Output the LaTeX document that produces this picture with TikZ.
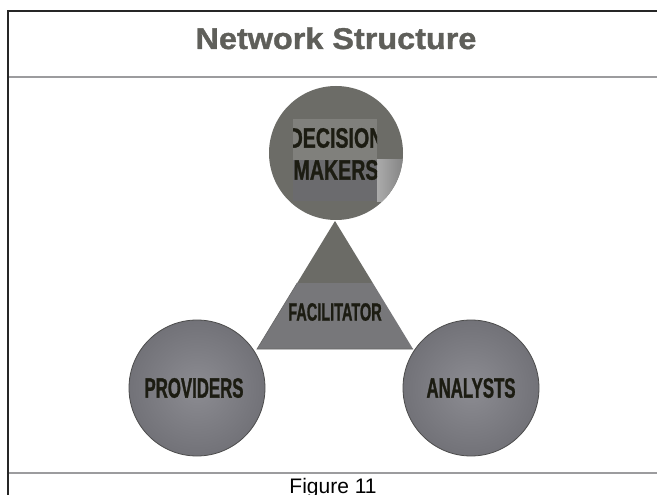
\documentclass[tikz,border=0pt]{standalone}
\usepackage{fontspec}
\setmainfont{Liberation Sans}
\newfontfamily\condA[FakeStretch=0.7,FakeBold=1]{Liberation Sans}
\newfontfamily\condB[FakeStretch=0.6,FakeBold=1]{Liberation Sans}
\newfontfamily\condC[FakeStretch=0.58,FakeBold=1]{Liberation Sans}
\newfontfamily\titlefont[FakeStretch=1.08,FakeBold=1.2]{Liberation Sans}
\definecolor{titlegray}{HTML}{5F5F5A}
\definecolor{dmgray}{HTML}{6C6C67}
\definecolor{boxup}{HTML}{80807C}
\definecolor{boxlow}{HTML}{6B6B6E}
\definecolor{triup}{HTML}{6B6B66}
\definecolor{trilow}{HTML}{77777A}
\definecolor{inkdark}{HTML}{1C1C12}
\definecolor{ballin}{HTML}{8C8C92}
\definecolor{ballout}{HTML}{727278}
\definecolor{rulegray}{HTML}{9C9C9E}
\tikzset{
  ball/.style={circle, minimum size=136pt, inner sep=0pt, draw=black!70, line width=0.8pt,
    inner color=ballin, outer color=ballout},
  lab/.style={inner sep=0pt, text=inkdark},
  frameline/.style={draw=black!85, line width=2pt},
  ruleline/.style={draw=rulegray, line width=1.5pt}
}
\begin{document}
\begin{tikzpicture}[x=1pt,y=-1pt]
\useasboundingbox (0,0) rectangle (657,495);
\fill[white] (0,0) rectangle (657,495);
% frame
\coordinate (tl) at (8,11);
\coordinate (tr) at (657,11);
\coordinate (bl) at (8,495);
\coordinate (sl) at (8,77);
\coordinate (sr) at (657,77);
\coordinate (fl) at (8,473);
\coordinate (fr) at (657,473);
\draw[ruleline] (sl) -- (sr);
\draw[ruleline] (fl) -- (fr);
\draw[frameline] (tr) -- (tl) -- (bl);
% title
\node[anchor=base, inner sep=0pt, text=titlegray, font=\titlefont\bfseries\fontsize{30}{30}\selectfont] (title) at (336,49) {Network Structure};
% triangle
\coordinate (apex) at (335,221);
\coordinate (ml) at (297.2,283);
\coordinate (mr) at (372.8,283);
\coordinate (bl2) at (257,349);
\coordinate (br2) at (413,349);
\fill[triup] (apex) -- (mr) -- (ml) -- cycle;
\fill[trilow] (ml) -- (mr) -- (br2) -- (bl2) -- cycle;
\draw[black!60, line width=0.6pt] (ml) -- (bl2) -- (br2);
\node[lab, font=\condC\bfseries\fontsize{25}{25}\selectfont] (fac) at (335,312) {FACILITATOR};
% top circle
\node[circle, minimum size=134pt, inner sep=0pt, fill=dmgray] (dm) at (336,153) {};
\begin{scope}
  \clip (dm.center) circle (67pt);
  \shade[left color=black!33, right color=black!52] (377,160) rectangle (410,201);
\end{scope}
\fill[boxup] (293,119) rectangle (377,160);
\fill[boxlow] (293,160) rectangle (377,201);
\begin{scope}
  \clip (293,119) rectangle (377,201);
  \node[lab, font=\condA\bfseries\fontsize{28}{28}\selectfont] (dmt1) at (336,138) {DECISION};
  \node[lab, font=\condA\bfseries\fontsize{28}{28}\selectfont] (dmt2) at (336,170) {MAKERS};
\end{scope}
% bottom circles
\node[ball] (prov) at (197,388) {};
\node[lab, font=\condB\bfseries\fontsize{28}{28}\selectfont] (provt) at (194,388) {PROVIDERS};
\node[ball] (anal) at (471,388) {};
\node[lab, font=\condB\bfseries\fontsize{28}{28}\selectfont] (analt) at (471,388) {ANALYSTS};
% caption
\node[anchor=base, inner sep=0pt, font=\fontsize{21}{21}\selectfont] (cap) at (333,493) {Figure 11};
\end{tikzpicture}
\end{document}
